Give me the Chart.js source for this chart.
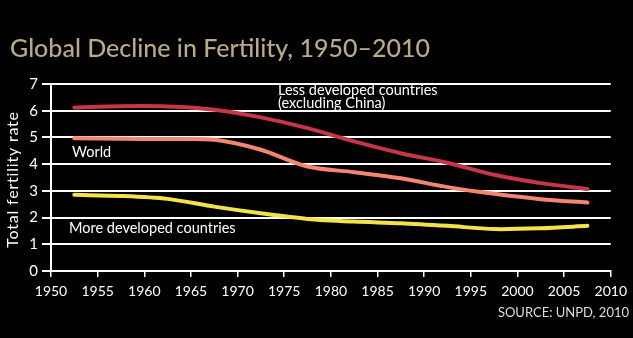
<!DOCTYPE html>
<html>
<head>
<meta charset="utf-8">
<script src="https://cdn.jsdelivr.net/npm/chart.js@4/dist/chart.umd.min.js"></script>
<style>
  html, body { margin: 0; padding: 0; background: #000; }
  #wrap { width: 633px; height: 338px; position: relative; }
  canvas { display: block; }
</style>
</head>
<body>
<div id="wrap"><canvas id="c" width="633" height="338"></canvas></div>
<script>
// Five-year periods, plotted at their midpoints
const years = [1952.5, 1957.5, 1962.5, 1967.5, 1972.5, 1977.5, 1982.5, 1987.5, 1992.5, 1997.5, 2002.5, 2007.5];

// Total fertility rate (children per woman)
const lessDeveloped = [6.12, 6.17, 6.16, 6.04, 5.75, 5.35, 4.85, 4.41, 4.05, 3.60, 3.29, 3.07];
const world         = [4.97, 4.95, 4.94, 4.91, 4.54, 3.91, 3.70, 3.47, 3.14, 2.89, 2.69, 2.56];
const moreDeveloped = [2.85, 2.81, 2.70, 2.41, 2.16, 1.95, 1.85, 1.79, 1.69, 1.57, 1.60, 1.69];

const yearTicks = [1950, 1955, 1960, 1965, 1970, 1975, 1980, 1985, 1990, 1995, 2000, 2005, 2010];
const rateTicks = [0, 1, 2, 3, 4, 5, 6, 7];

const FONT = 'Lato, "Open Sans", sans-serif';

const toXY = vals => vals.map((v, i) => ({ x: years[i], y: v }));

// Title, axis title, series labels and source line
const textLayer = {
  id: 'textLayer',
  afterDraw(chart) {
    const ctx = chart.ctx;
    const area = chart.chartArea;
    ctx.save();
    ctx.textBaseline = 'alphabetic';
    ctx.textAlign = 'left';

    ctx.fillStyle = '#b9a98c';
    ctx.font = '500 25px ' + FONT;
    ctx.fillText('Global Decline in Fertility, 1950\u20132010', 10, 57);

    ctx.fillStyle = '#ffffff';
    ctx.font = '14.5px ' + FONT;
    ctx.fillText('Less developed countries', 278, 95);
    ctx.fillText('(excluding China)', 278, 108);
    ctx.fillText('World', 72, 157);
    ctx.fillText('More developed countries', 69, 233);

    // vertical axis title
    ctx.save();
    ctx.translate(18, (area.top + area.bottom) / 2 + 2);
    ctx.rotate(-Math.PI / 2);
    ctx.textAlign = 'center';
    ctx.font = '16px ' + FONT;
    ctx.letterSpacing = '0.8px';
    ctx.fillText('Total fertility rate', 0, 0);
    ctx.restore();

    ctx.fillStyle = '#dddddd';
    ctx.font = '13px ' + FONT;
    ctx.textAlign = 'right';
    ctx.fillText('SOURCE: UNPD, 2010', 629, 317);
    ctx.restore();
  }
};

const lineStyle = {
  fill: false,
  borderWidth: 4,
  pointRadius: 0,
  tension: 0.3,
  borderCapStyle: 'round',
  borderJoinStyle: 'round'
};

new Chart(document.getElementById('c'), {
  type: 'line',
  data: {
    datasets: [
      Object.assign({ label: 'Less developed countries (excluding China)', data: toXY(lessDeveloped), borderColor: '#c5364a' }, lineStyle),
      Object.assign({ label: 'World', data: toXY(world), borderColor: '#f2866e' }, lineStyle),
      Object.assign({ label: 'More developed countries', data: toXY(moreDeveloped), borderColor: '#f5e24a' }, lineStyle)
    ]
  },
  options: {
    responsive: false,
    devicePixelRatio: 1,
    animation: false,
    layout: { padding: { left: 0, right: 18, top: 84, bottom: 0 } },
    plugins: {
      legend: { display: false },
      tooltip: { enabled: false },
      title: { display: false }
    },
    scales: {
      x: {
        type: 'linear',
        min: 1950,
        max: 2010,
        afterBuildTicks: s => { s.ticks = yearTicks.map(v => ({ value: v })); },
        afterFit: s => { s.height = 67; },
        border: { color: '#ffffff', width: 2 },
        grid: { drawOnChartArea: false, drawTicks: true, tickLength: 6, color: '#ffffff', lineWidth: 1.5 },
        ticks: {
          color: '#ffffff',
          padding: 6,
          maxRotation: 0,
          font: { family: FONT, size: 14 },
          callback: v => String(v)
        }
      },
      y: {
        min: 0,
        max: 7,
        afterBuildTicks: s => { s.ticks = rateTicks.map(v => ({ value: v })); },
        afterFit: s => { s.width = 51; },
        border: { color: '#ffffff', width: 2 },
        grid: { color: '#ffffff', lineWidth: 2, drawTicks: true, tickLength: 9 },
        ticks: {
          color: '#ffffff',
          padding: 4,
          font: { family: FONT, size: 15 },
          callback: v => String(v)
        }
      }
    }
  },
  plugins: [textLayer]
});
</script>
</body>
</html>
